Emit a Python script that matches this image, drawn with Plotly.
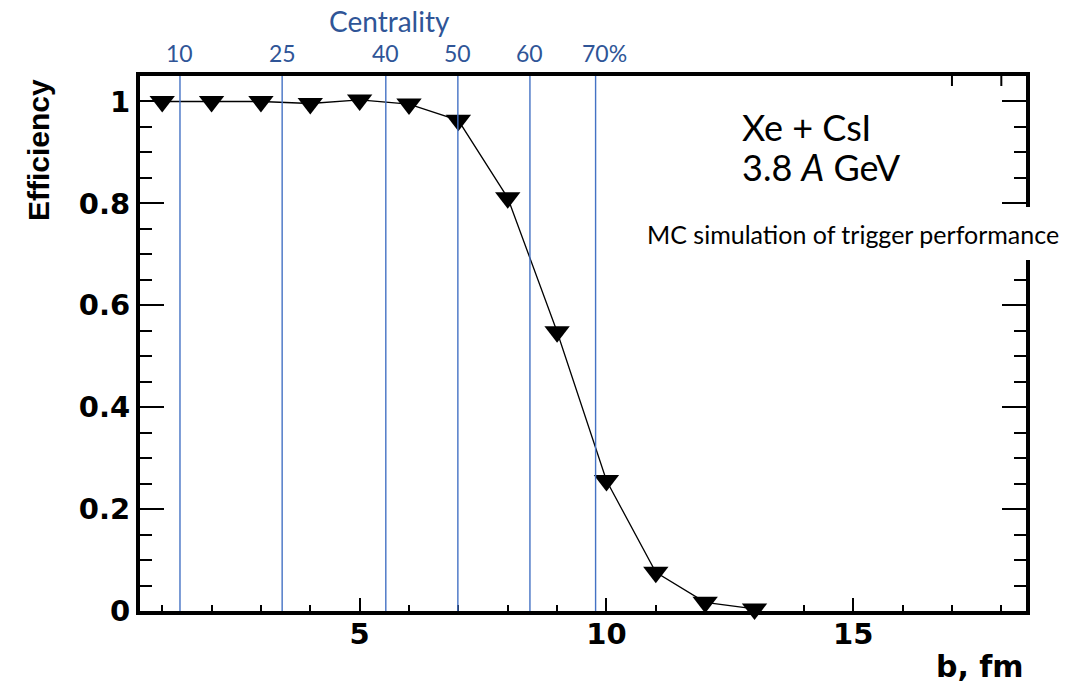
import plotly.graph_objects as go

# Trigger efficiency versus impact parameter
b_fm = [1, 2, 3, 4, 5, 6, 7, 8, 9, 10, 11, 12, 13]
efficiency = [1.0, 1.0, 1.0, 0.996, 1.003, 0.995, 0.963, 0.811, 0.548,
              0.256, 0.076, 0.017, 0.004]

# Centrality class boundaries expressed in impact parameter
centrality_pct = ["10", "25", "40", "50", "60", "70%"]
centrality_b = [1.36, 3.43, 5.53, 6.99, 8.45, 9.78]

x_ticks = [5, 10, 15]
y_ticks = [0, 0.2, 0.4, 0.6, 0.8, 1.0]

BLUE_LINE = "#4472C4"
BLUE_TEXT = "#2F5597"
ROOT_FONT = "DejaVu Sans"
NOTE_FONT = "Lato"

W, H = 1092, 683
L, R, T, B = 140, 66, 76, 72
PW, PH = W - L - R, H - T - B


def px_x(px):
    return (px - L) / PW


def px_y(py):
    return (H - B - py) / PH


fig = go.Figure()

fig.add_trace(go.Scatter(
    x=b_fm, y=efficiency,
    mode="lines+markers",
    line=dict(color="black", width=1.3),
    marker=dict(symbol="triangle-down", size=22, color="black",
                line=dict(width=0)),
    cliponaxis=False,
    showlegend=False,
))

shapes = []
# vertical centrality boundaries
for bv in centrality_b:
    shapes.append(dict(type="line", xref="x", yref="paper",
                       x0=bv, x1=bv, y0=0, y1=1, layer="above",
                       line=dict(color=BLUE_LINE, width=1.4)))

# short ticks on the top edge near the right corner
for xv in [17, 18]:
    shapes.append(dict(type="line", xref="x", yref="paper",
                       x0=xv, x1=xv, y0=1, y1=1 - 10 / PH, layer="above",
                       line=dict(color="black", width=2)))

# white label panel over the right frame edge
shapes.append(dict(type="rect", xref="paper", yref="paper",
                   x0=px_x(640), x1=px_x(1072), y0=px_y(260), y1=px_y(207),
                   layer="above", fillcolor="white",
                   line=dict(width=0)))

annotations = []
annotations.append(dict(text="Centrality", xref="paper", yref="paper",
                        x=px_x(389), y=px_y(21), xanchor="center",
                        yanchor="middle", showarrow=False,
                        font=dict(family=NOTE_FONT, size=28, color=BLUE_TEXT)))
for lab, bv in zip(centrality_pct, centrality_b):
    shift = 9 if lab.endswith("%") else 0
    annotations.append(dict(text=lab, xref="x", yref="paper",
                            x=bv, y=px_y(53), xanchor="center",
                            yanchor="middle", xshift=shift, showarrow=False,
                            font=dict(family=NOTE_FONT, size=23,
                                      color=BLUE_TEXT)))

annotations.append(dict(text="Xe + CsI", xref="paper", yref="paper",
                        x=px_x(740), y=px_y(127), xanchor="left",
                        yanchor="middle", showarrow=False,
                        font=dict(family=NOTE_FONT, size=36, color="black")))
annotations.append(dict(text="3.8 <i>A</i> GeV", xref="paper", yref="paper",
                        x=px_x(740), y=px_y(167), xanchor="left",
                        yanchor="middle", showarrow=False,
                        font=dict(family=NOTE_FONT, size=36, color="black")))
annotations.append(dict(text="MC simulation of trigger performance",
                        xref="paper", yref="paper",
                        x=px_x(645), y=px_y(234), xanchor="left",
                        yanchor="middle", showarrow=False,
                        font=dict(family=NOTE_FONT, size=25, color="black")))

annotations.append(dict(text="Efficiency", xref="paper", yref="paper",
                        x=px_x(38), y=px_y(150), xanchor="center",
                        yanchor="middle", textangle=-90, showarrow=False,
                        font=dict(family="Liberation Sans", size=30,
                                  weight="bold", color="black")))
annotations.append(dict(text="b, fm", xref="paper", yref="paper",
                        x=px_x(1026), y=px_y(666), xanchor="right",
                        yanchor="middle", showarrow=False,
                        font=dict(family=ROOT_FONT, size=30, weight="bold",
                                  color="black")))

tick_font = dict(family=ROOT_FONT, size=29, weight="bold", color="black")

fig.update_layout(
    width=W, height=H,
    margin=dict(l=L, r=R, t=T, b=B, pad=0),
    paper_bgcolor="white", plot_bgcolor="white",
    shapes=shapes, annotations=annotations,
    xaxis=dict(
        range=[0.55, 18.5], tickvals=x_ticks, ticktext=[str(v) for v in x_ticks],
        ticks="inside", ticklen=13, tickwidth=2, tickcolor="black",
        showline=True, linewidth=4, linecolor="black", mirror=True,
        showgrid=False, zeroline=False, tickfont=tick_font,
        ticklabelstandoff=-6,
        minor=dict(dtick=1, tick0=0, ticks="inside", ticklen=6, tickwidth=2,
                   tickcolor="black", showgrid=False),
    ),
    yaxis=dict(
        range=[0, 1.05], tickvals=y_ticks,
        ticktext=["0", "0.2", "0.4", "0.6", "0.8", "1"],
        ticks="inside", ticklen=24, tickwidth=2, tickcolor="black",
        showline=True, linewidth=4, linecolor="black", mirror="ticks",
        showgrid=False, zeroline=False, tickfont=tick_font,
        minor=dict(dtick=0.05, tick0=0, ticks="inside", ticklen=12,
                   tickwidth=2, tickcolor="black", showgrid=False),
    ),
)

fig.write_html("out.html")
